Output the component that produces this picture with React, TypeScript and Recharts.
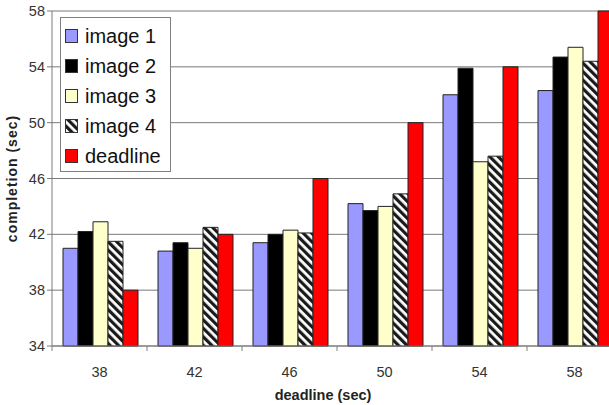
import { BarChart, Bar, XAxis, YAxis, CartesianGrid, Legend } from 'recharts';

const categories = ['38', '42', '46', '50', '54', '58'];
const image1 = [41.0, 40.8, 41.4, 44.2, 52.0, 52.3];
const image2 = [42.2, 41.4, 42.0, 43.7, 53.9, 54.7];
const image3 = [42.9, 41.0, 42.3, 44.0, 47.2, 55.4];
const image4 = [41.5, 42.5, 42.1, 44.9, 47.6, 54.4];
const deadline = [38, 42, 46, 50, 54, 58];
const yTicks = [34, 38, 42, 46, 50, 54, 58];

const series = [
  { key: 'image1', name: 'image 1', fill: '#9999FF' },
  { key: 'image2', name: 'image 2', fill: '#000000' },
  { key: 'image3', name: 'image 3', fill: '#FFFFCC' },
  { key: 'image4', name: 'image 4', fill: 'url(#hatch)' },
  { key: 'deadline', name: 'deadline', fill: '#FF0000' },
];

const data = categories.map((c, i) => ({
  name: c,
  image1: image1[i],
  image2: image2[i],
  image3: image3[i],
  image4: image4[i],
  deadline: deadline[i],
}));

const FONT = '"Liberation Sans", Arial, sans-serif';

function XTick(props: any) {
  const { x, y, payload, index } = props;
  const half = payload && payload.offset ? payload.offset : 47.5;
  return (
    <g>
      {index === 0 && <line x1={x - half} x2={x - half} y1={y} y2={y + 5} stroke="#808080" />}
      <line x1={x + half} x2={x + half} y1={y} y2={y + 5} stroke="#808080" />
      <text x={x} y={y + 31} textAnchor="middle" fontSize={14.5} fill="#333" fontFamily={FONT}>
        {payload.value}
      </text>
    </g>
  );
}

function LegendBox() {
  return (
    <div
      style={{
        border: '1px solid #808080',
        background: '#fff',
        padding: '3px 0 0 4px',
        width: 105,
        boxSizing: 'content-box',
        fontFamily: FONT,
      }}
    >
      {series.map((s) => (
        <div key={s.key} style={{ height: 30, display: 'flex', alignItems: 'center' }}>
          <svg width={13} height={14} style={{ marginRight: 7 }}>
            <rect x={0.5} y={0.5} width={12} height={13} fill={s.fill} stroke="#333" />
          </svg>
          <span style={{ fontSize: 20, color: '#111', lineHeight: '20px' }}>{s.name}</span>
        </div>
      ))}
    </div>
  );
}

export default function App() {
  return (
    <div
      style={{
        position: 'fixed',
        left: 0,
        top: 0,
        width: 609,
        height: 405,
        overflow: 'hidden',
        background: '#fff',
      }}
    >
      <BarChart
        width={630}
        height={405}
        data={data}
        margin={{ top: 11, right: 8, left: 0, bottom: 0 }}
        barCategoryGap={11}
        barGap={0}
      >
        <defs>
          <pattern id="hatch" patternUnits="userSpaceOnUse" width="6" height="6" patternTransform="rotate(-45)">
            <rect width="6" height="6" fill="#fff" />
            <rect width="3.2" height="6" fill="#1a1a1a" />
          </pattern>
        </defs>
        <CartesianGrid vertical={false} stroke="#7a7a7a" />
        <XAxis
          dataKey="name"
          stroke="#7a7a7a"
          tickSize={0}
          tickMargin={0}
          height={59}
          tick={<XTick />}
          label={{
            value: 'deadline (sec)',
            position: 'insideBottom',
            offset: 5,
            dx: -14,
            style: { fontSize: 14.5, fontWeight: 'bold', fill: '#222', fontFamily: FONT },
          }}
        />
        <YAxis
          width={52}
          domain={[34, 58]}
          ticks={yTicks}
          stroke="#7a7a7a"
          tickSize={5}
          tickMargin={2}
          tick={{ fontSize: 14.5, fill: '#333', fontFamily: FONT }}
          label={{
            value: 'completion (sec)',
            angle: -90,
            position: 'insideLeft',
            offset: 12,
            style: { fontSize: 14, fontWeight: 'bold', fill: '#222', fontFamily: FONT, letterSpacing: 1, textAnchor: 'middle' },
          }}
        />
        <Legend
          layout="horizontal"
          verticalAlign="middle"
          align="center"
          content={() => <LegendBox />}
          wrapperStyle={{ left: 60, top: 17, width: 111 }}
        />
        {series.map((s) => (
          <Bar
            key={s.key}
            dataKey={s.key}
            name={s.name}
            fill={s.fill}
            stroke="#222"
            strokeWidth={1}
            isAnimationActive={false}
          />
        ))}
      </BarChart>
    </div>
  );
}
